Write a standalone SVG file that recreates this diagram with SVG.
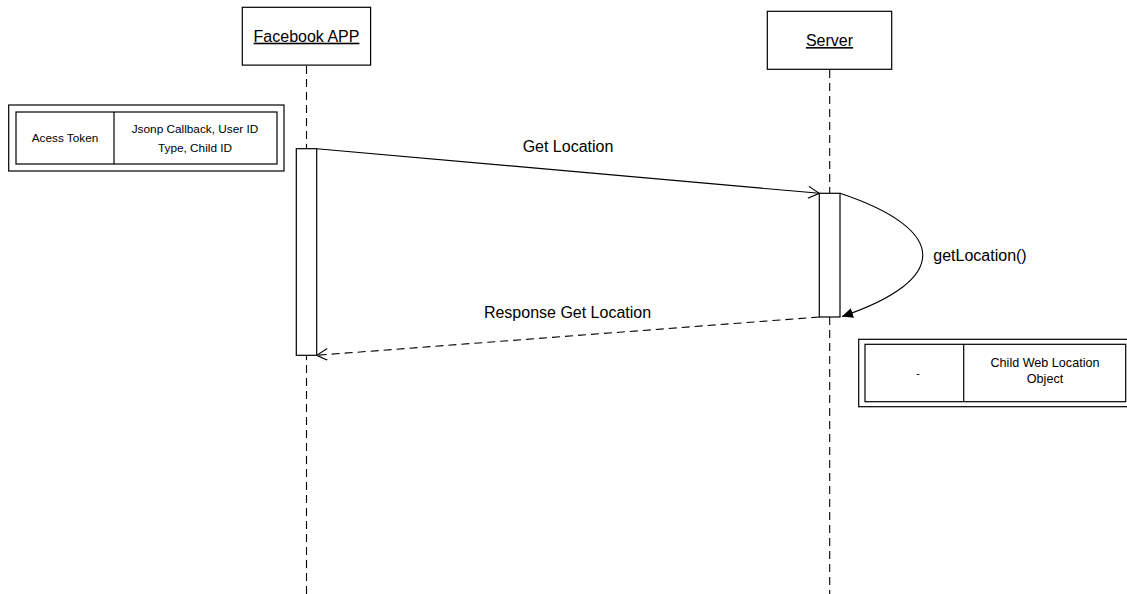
<svg xmlns="http://www.w3.org/2000/svg" width="1127" height="594" viewBox="0 0 1127 594">
<style>
.box{fill:#fff;stroke:#000;stroke-width:1.2}
.life{stroke:#000;stroke-width:1.1;stroke-dasharray:8,5;fill:none}
.t{font-family:"Liberation Sans",Arial,sans-serif;fill:#000}
.big{font-size:16px}
.small{font-size:11.8px}
.msg{stroke:#000;stroke-width:1.1;fill:none}
</style>
<defs>
<marker id="open" markerWidth="14" markerHeight="14" refX="12" refY="6" orient="auto" markerUnits="userSpaceOnUse">
<path d="M1,0 L12,6 L1,12" fill="none" stroke="#000" stroke-width="1.1"/>
</marker>
<marker id="filled" markerWidth="14" markerHeight="14" refX="11" refY="5" orient="auto" markerUnits="userSpaceOnUse">
<path d="M0,0 L11,5 L0,10 Z" fill="#000"/>
</marker>
</defs>
<rect width="1127" height="594" fill="#fff"/>
<g id="lifelines">
<line class="life" x1="306.5" y1="66" x2="306.5" y2="594"/>
<line class="life" x1="829.7" y1="70" x2="829.7" y2="594"/>
</g>
<g id="facebook-app">
<rect class="box" x="242.3" y="7.3" width="128.3" height="57.8"/>
<text class="t big" x="306.5" y="41.7" text-anchor="middle" text-decoration="underline">Facebook APP</text>
</g>
<g id="server">
<rect class="box" x="767.3" y="11.3" width="124.4" height="58"/>
<text class="t big" x="829.5" y="46" text-anchor="middle" text-decoration="underline">Server</text>
</g>
<g id="activation-app">
<rect class="box" x="296.3" y="148.7" width="20.4" height="206.6"/>
</g>
<g id="activation-server">
<rect class="box" x="819.3" y="193.3" width="20.7" height="123.7"/>
</g>
<g id="connectors">
<line class="msg" x1="316.7" y1="148.7" x2="819.3" y2="193.3" marker-end="url(#open)"/>
<path class="msg" d="M840,193.3 C950,230 950,280 842,316.5" marker-end="url(#filled)"/>
<line class="msg" x1="819.3" y1="317" x2="316.7" y2="355.3" stroke-dasharray="8,5" marker-end="url(#open)"/>
</g>
<g id="labels">
<text class="t big" x="568" y="151.7" text-anchor="middle">Get Location</text>
<text class="t big" x="567.5" y="318.3" text-anchor="middle">Response Get Location</text>
<text class="t big" x="933.3" y="260.7">getLocation()</text>
</g>
<g id="note-request">
<rect class="box" x="8.7" y="105" width="275.3" height="66"/>
<rect class="box" x="16" y="112" width="261" height="52"/>
<line x1="114" y1="112" x2="114" y2="164" stroke="#000" stroke-width="1.2"/>
<text class="t small" x="65" y="141.7" text-anchor="middle">Acess Token</text>
<text class="t small" x="195" y="133.3" text-anchor="middle">Jsonp Callback, User ID</text>
<text class="t small" x="195" y="151.7" text-anchor="middle">Type, Child ID</text>
</g>
<g id="note-response">
<rect class="box" x="858.7" y="339.3" width="275" height="67.4"/>
<rect class="box" x="865" y="344.3" width="260.7" height="57.4"/>
<line x1="963.7" y1="344.3" x2="963.7" y2="401.7" stroke="#000" stroke-width="1.2"/>
<text class="t small" x="918" y="377" text-anchor="middle">-</text>
<text class="t small" x="1045" y="367.3" text-anchor="middle" style="font-size:12.6px">Child Web Location</text>
<text class="t small" x="1045" y="383.3" text-anchor="middle" style="font-size:12.6px">Object</text>
</g>
</svg>
